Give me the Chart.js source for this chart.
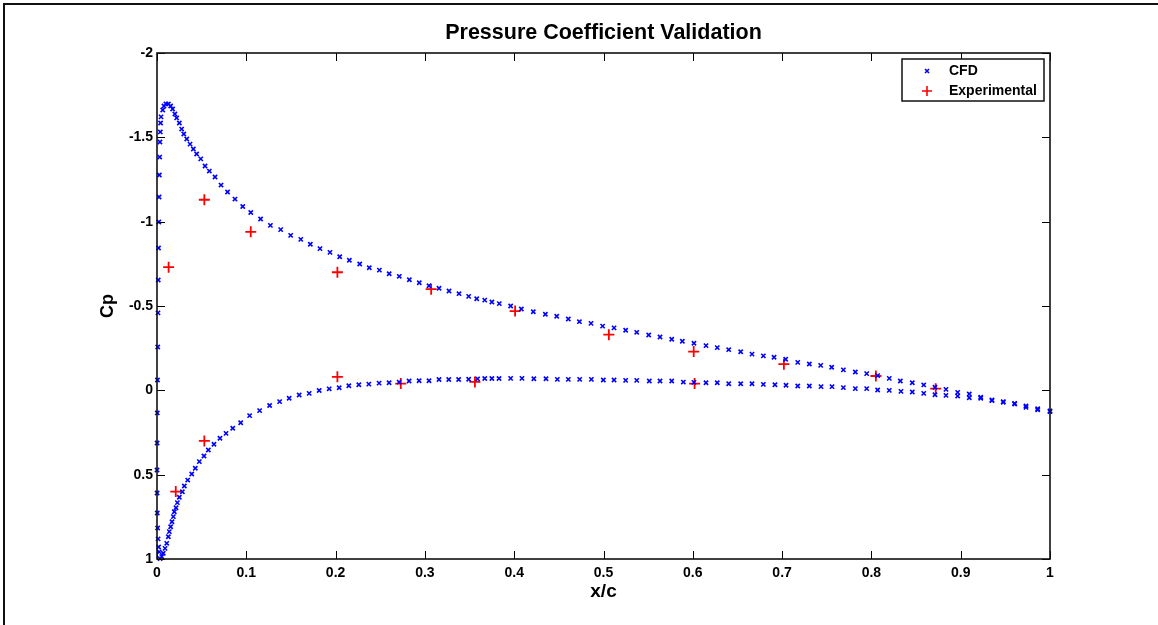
<!DOCTYPE html>
<html>
<head>
<meta charset="utf-8">
<title>Pressure Coefficient Validation</title>
<script src="https://cdn.jsdelivr.net/npm/chart.js@4.4.1/dist/chart.umd.min.js"></script>
<style>
  html, body { margin: 0; padding: 0; background: #fff; }
  canvas { display: block; }
</style>
</head>
<body>
<canvas id="cp-chart" width="1158" height="625"></canvas>
<script>
// ── Data (x/c, Cp) ─────────────────────────────────────────
const cfdUpper = [
    [0.0025, 0.958], [0.0018, 0.929], [0.0012, 0.881], [0.0007, 0.816], [0.0003, 0.727],
    [0.0001, 0.609], [0, 0.472], [0.0001, 0.312], [0.0003, 0.134], [0.0005, -0.061],
    [0.0008, -0.257], [0.0011, -0.459], [0.0014, -0.654], [0.0017, -0.844], [0.002, -0.998],
    [0.0023, -1.146], [0.0026, -1.277], [0.003, -1.383], [0.0033, -1.472], [0.0037, -1.532],
    [0.004, -1.585], [0.0045, -1.621], [0.0064, -1.662], [0.0078, -1.686], [0.010, -1.698],
    [0.0127, -1.698], [0.0153, -1.686], [0.0175, -1.668], [0.020, -1.638], [0.022, -1.615],
    [0.025, -1.585], [0.0276, -1.549], [0.030, -1.520], [0.0333, -1.490], [0.037, -1.460],
    [0.0407, -1.431], [0.0444, -1.401], [0.049, -1.372], [0.0538, -1.330], [0.0586, -1.300],
    [0.065, -1.265], [0.0717, -1.217], [0.079, -1.176], [0.0873, -1.134], [0.096, -1.090],
    [0.105, -1.054], [0.116, -1.016], [0.127, -0.978], [0.1385, -0.953], [0.1497, -0.919],
    [0.161, -0.895], [0.1717, -0.866], [0.1825, -0.840], [0.1937, -0.818], [0.2046, -0.792],
    [0.2154, -0.771], [0.227, -0.749], [0.2377, -0.727], [0.249, -0.713], [0.260, -0.691],
    [0.2713, -0.676], [0.2826, -0.656], [0.2937, -0.638], [0.3046, -0.620], [0.3158, -0.605],
    [0.327, -0.589], [0.3382, -0.573], [0.349, -0.557], [0.358, -0.543], [0.367, -0.535],
    [0.375, -0.524], [0.3833, -0.514], [0.396, -0.500], [0.408, -0.482], [0.4214, -0.466],
    [0.4349, -0.451], [0.4476, -0.439], [0.4606, -0.423], [0.473, -0.407], [0.486, -0.397],
    [0.499, -0.381], [0.5118, -0.370], [0.5248, -0.356], [0.5372, -0.344], [0.5506, -0.328],
    [0.5633, -0.316], [0.5764, -0.303], [0.5883, -0.291], [0.6013, -0.279], [0.6148, -0.265],
    [0.6274, -0.253], [0.6402, -0.241], [0.6536, -0.229], [0.6663, -0.215], [0.679, -0.204],
    [0.691, -0.196], [0.704, -0.184], [0.7175, -0.166], [0.7305, -0.156], [0.7432, -0.148],
    [0.7555, -0.137], [0.7686, -0.121], [0.782, -0.109], [0.7947, -0.099], [0.807, -0.087],
    [0.820, -0.071], [0.8324, -0.055], [0.8458, -0.045], [0.8586, -0.032], [0.8712, -0.018],
    [0.8835, -0.006], [0.8966, 0.012], [0.9096, 0.022], [0.9224, 0.041], [0.935, 0.057],
    [0.9477, 0.067], [0.9604, 0.077], [0.9731, 0.093], [0.9862, 0.109], [1.0, 0.122],
];

const cfdLower = [
    [0.0035, 0.998], [0.0053, 0.986], [0.007, 0.966], [0.009, 0.937], [0.0109, 0.907],
    [0.0127, 0.868], [0.0138, 0.838], [0.0153, 0.809], [0.0168, 0.779], [0.0183, 0.749],
    [0.0194, 0.720], [0.0213, 0.696], [0.0228, 0.666], [0.025, 0.634], [0.0284, 0.601],
    [0.0306, 0.567], [0.0344, 0.532], [0.0389, 0.496], [0.0429, 0.462], [0.0474, 0.423],
    [0.0526, 0.389], [0.0575, 0.354], [0.0638, 0.320], [0.0705, 0.284], [0.0773, 0.255],
    [0.0848, 0.225], [0.0937, 0.192], [0.1037, 0.150], [0.1149, 0.120], [0.1261, 0.090],
    [0.1373, 0.067], [0.148, 0.047], [0.1592, 0.028], [0.1704, 0.018], [0.1816, 0.001],
    [0.1928, -0.009], [0.204, -0.015], [0.2148, -0.027], [0.226, -0.033], [0.2372, -0.037],
    [0.2487, -0.043], [0.2599, -0.045], [0.2711, -0.049], [0.2823, -0.055], [0.2935, -0.057],
    [0.3046, -0.057], [0.3158, -0.064], [0.3267, -0.064], [0.3378, -0.064], [0.349, -0.066],
    [0.359, -0.068], [0.367, -0.070], [0.375, -0.070], [0.383, -0.070], [0.396, -0.071],
    [0.4087, -0.071], [0.422, -0.069], [0.4356, -0.069], [0.4483, -0.065], [0.4606, -0.065],
    [0.4733, -0.065], [0.4864, -0.065], [0.4998, -0.061], [0.5118, -0.061], [0.5248, -0.059],
    [0.5372, -0.059], [0.5513, -0.055], [0.5633, -0.055], [0.5764, -0.055], [0.5894, -0.049],
    [0.6013, -0.047], [0.6148, -0.045], [0.6274, -0.045], [0.6402, -0.039], [0.6536, -0.039],
    [0.6663, -0.039], [0.679, -0.035], [0.692, -0.033], [0.7044, -0.030], [0.7175, -0.026],
    [0.7305, -0.026], [0.7436, -0.022], [0.7559, -0.022], [0.7686, -0.016], [0.782, -0.010],
    [0.7947, -0.010], [0.807, -0.002], [0.820, 0.000], [0.8331, 0.006], [0.8458, 0.010],
    [0.8586, 0.018], [0.8712, 0.026], [0.8835, 0.030], [0.8966, 0.034], [0.9096, 0.044],
    [0.9224, 0.047], [0.935, 0.061], [0.9477, 0.071], [0.9604, 0.081], [0.9731, 0.101],
    [0.9862, 0.115], [1.0, 0.126],
];

const expX  = [0.013, 0.021, 0.053, 0.053, 0.105, 0.202, 0.202, 0.273, 0.307, 0.356, 0.401, 0.506, 0.601, 0.602, 0.702, 0.805, 0.872];
const expCp = [-0.73, 0.60, -1.13, 0.30, -0.94, -0.70, -0.08, -0.04, -0.60, -0.05, -0.47, -0.33, -0.23, -0.04, -0.155, -0.085, -0.01];

const xTicks      = [0, 0.1, 0.2, 0.3, 0.4, 0.5, 0.6, 0.7, 0.8, 0.9, 1];
const xTickLabels = ['0', '0.1', '0.2', '0.3', '0.4', '0.5', '0.6', '0.7', '0.8', '0.9', '1'];
const yTicks      = [-2, -1.5, -1, -0.5, 0, 0.5, 1];
const yTickLabels = ['-2', '-1.5', '-1', '-0.5', '0', '0.5', '1'];

// ── Style ──────────────────────────────────────────────────
const FONT     = '"Liberation Sans", Arial, Helvetica, sans-serif';
const BLUE     = '#0000ff';
const RED      = '#ff0000';
const TICK_LEN = 8;

const toPoints = pairs => pairs.map(([x, y]) => ({ x, y }));

// ── Box, inner ticks, titles, legend (MATLAB look) ─────────
const matlabFrame = {
    id: 'matlabFrame',
    afterDatasetsDraw(chart) {
        const { ctx, chartArea: a, scales: { x, y } } = chart;
        ctx.save();

        // inner tick marks on all four sides
        ctx.strokeStyle = '#000';
        ctx.lineWidth   = 1;
        ctx.beginPath();
        xTicks.forEach(v => {
            const px = Math.round(x.getPixelForValue(v)) + 0.5;
            ctx.moveTo(px, a.bottom); ctx.lineTo(px, a.bottom - TICK_LEN);
            ctx.moveTo(px, a.top);    ctx.lineTo(px, a.top + TICK_LEN);
        });
        yTicks.forEach(v => {
            const py = Math.round(y.getPixelForValue(v)) + 0.5;
            ctx.moveTo(a.left, py);  ctx.lineTo(a.left + TICK_LEN, py);
            ctx.moveTo(a.right, py); ctx.lineTo(a.right - TICK_LEN, py);
        });
        ctx.stroke();

        // axes box
        ctx.lineWidth = 1.6;
        ctx.strokeStyle = '#111';
        ctx.strokeRect(a.left, a.top, a.right - a.left, a.bottom - a.top);

        // figure frame (top + left edge)
        ctx.lineWidth = 2;
        ctx.beginPath();
        ctx.moveTo(4, 625); ctx.lineTo(4, 4); ctx.lineTo(1158, 4);
        ctx.stroke();

        // titles
        const cx = (a.left + a.right) / 2;
        ctx.fillStyle    = '#000';
        ctx.textAlign    = 'center';
        ctx.textBaseline = 'alphabetic';
        ctx.font = `bold 21.5px ${FONT}`;
        ctx.fillText('Pressure Coefficient Validation', cx, 39);
        ctx.font = `bold 19px ${FONT}`;
        ctx.fillText('x/c', cx, 597);
        ctx.save();
        ctx.translate(113, (a.top + a.bottom) / 2);
        ctx.rotate(-Math.PI / 2);
        ctx.font = `bold 18px ${FONT}`;
        ctx.fillText('Cp', 0, 0);
        ctx.restore();

        // legend
        const lx = 902, ly = 59, lw = 142, lh = 42;
        ctx.fillStyle = '#fff';
        ctx.fillRect(lx, ly, lw, lh);
        ctx.lineWidth   = 1.5;
        ctx.strokeStyle = '#111';
        ctx.strokeRect(lx, ly, lw, lh);

        const mx = 927, r1 = 71, r2 = 91;
        ctx.lineWidth   = 1.6;
        ctx.strokeStyle = BLUE;
        ctx.beginPath();
        ctx.moveTo(mx - 2, r1 - 2); ctx.lineTo(mx + 2, r1 + 2);
        ctx.moveTo(mx + 2, r1 - 2); ctx.lineTo(mx - 2, r1 + 2);
        ctx.stroke();
        ctx.strokeStyle = RED;
        ctx.beginPath();
        ctx.moveTo(mx - 5, r2); ctx.lineTo(mx + 5, r2);
        ctx.moveTo(mx, r2 - 5); ctx.lineTo(mx, r2 + 5);
        ctx.stroke();

        ctx.fillStyle    = '#000';
        ctx.textAlign    = 'left';
        ctx.textBaseline = 'middle';
        ctx.font = `bold 14px ${FONT}`;
        ctx.fillText('CFD', 949, r1);
        ctx.fillText('Experimental', 949, r2);

        ctx.restore();
    },
};

// ── Chart ──────────────────────────────────────────────────
const cfdStyle = {
    showLine:        false,
    pointStyle:      'crossRot',
    pointRadius:     3,
    pointBorderWidth: 1.6,
    pointBorderColor: BLUE,
    pointBackgroundColor: BLUE,
    clip: false,
};

new Chart(document.getElementById('cp-chart').getContext('2d'), {
    type: 'scatter',
    data: {
        datasets: [
            { label: 'CFD', data: toPoints(cfdUpper), ...cfdStyle },
            { label: 'CFD lower', data: toPoints(cfdLower), ...cfdStyle },
            {
                label: 'Experimental',
                data: expX.map((x, i) => ({ x, y: expCp[i] })),
                showLine: false,
                pointStyle: 'cross',
                pointRadius: 5.5,
                pointBorderWidth: 1.8,
                pointBorderColor: RED,
                pointBackgroundColor: RED,
                clip: false,
            },
        ],
    },
    options: {
        responsive: false,
        animation: false,
        devicePixelRatio: 1,
        layout: { padding: { left: 0, right: 108, top: 53, bottom: 0 } },
        plugins: {
            legend:  { display: false },
            title:   { display: false },
            tooltip: { enabled: false },
        },
        scales: {
            x: {
                type: 'linear',
                min: 0, max: 1,
                grid:   { display: false, drawTicks: false },
                border: { display: false },
                afterBuildTicks: s => { s.ticks = xTicks.map(value => ({ value })); },
                afterFit: s => { s.height = 66; },
                ticks: {
                    autoSkip: false, maxRotation: 0, padding: 6,
                    color: '#000',
                    font: { family: FONT, size: 14, weight: 'bold' },
                    callback: (v, i) => xTickLabels[i],
                },
            },
            y: {
                type: 'linear',
                reverse: true,
                min: -2, max: 1,
                grid:   { display: false, drawTicks: false },
                border: { display: false },
                afterBuildTicks: s => { s.ticks = yTicks.map(value => ({ value })); },
                afterFit: s => { s.width = 157; },
                ticks: {
                    autoSkip: false, padding: 4,
                    color: '#000',
                    font: { family: FONT, size: 14, weight: 'bold' },
                    callback: (v, i) => yTickLabels[i],
                },
            },
        },
    },
    plugins: [matlabFrame],
});
</script>
</body>
</html>
